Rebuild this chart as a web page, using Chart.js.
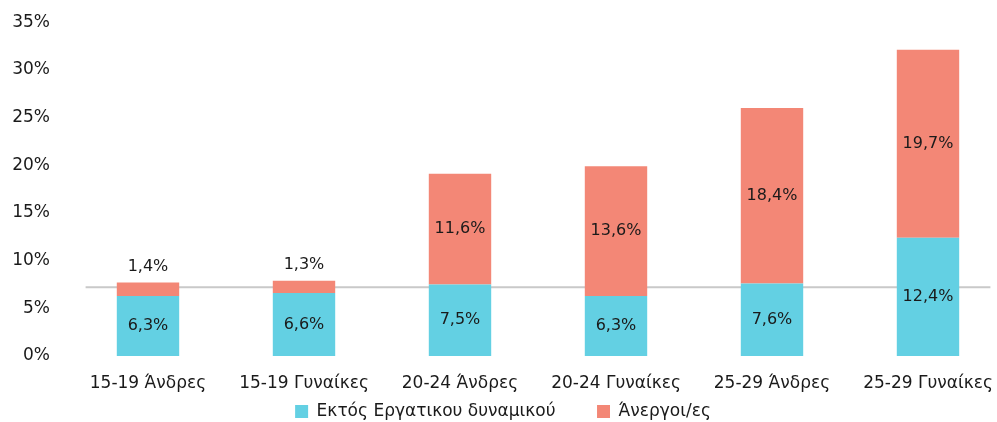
<!DOCTYPE html>
<html>
<head>
<meta charset="utf-8">
<script src="https://cdn.jsdelivr.net/npm/chart.js@4"></script>
<style>
  html, body { margin: 0; padding: 0; overflow: hidden; background: #fff; }
  #wrap { position: absolute; left: 0; top: 0; width: 1006px; height: 430px; }
</style>
</head>
<body>
<div id="wrap"><canvas id="myChart" width="1006" height="430"></canvas></div>
<script>
const categories = ["15-19 Άνδρες", "15-19 Γυναίκες", "20-24 Άνδρες", "20-24 Γυναίκες", "25-29 Άνδρες", "25-29 Γυναίκες"];
const outsideLabour = [6.3, 6.6, 7.5, 6.3, 7.6, 12.4];
const unemployed = [1.4, 1.3, 11.6, 13.6, 18.4, 19.7];
const seriesNames = ["Εκτός Εργατικου δυναμικού", "Άνεργοι/ες"];
const yTicks = [0, 5, 10, 15, 20, 25, 30, 35];
const refLine = 7.2; // grey horizontal line

const FONT = "'DejaVu Sans', sans-serif";
const LEGEND_GAP = "\u00a0\u00a0\u00a0\u00a0\u00a0\u00a0";

function fmt(v) {
  return v.toFixed(1).replace(".", ",") + "%";
}

// grey reference line, behind bars
const refLinePlugin = {
  id: "refLine",
  beforeDatasetsDraw(chart) {
    const { ctx, scales } = chart;
    const y = scales.y.getPixelForValue(refLine);
    const x0 = scales.x.getPixelForValue(-0.4);
    const x1 = scales.x.getPixelForValue(categories.length - 0.6);
    ctx.save();
    ctx.strokeStyle = "#c9c9c9";
    ctx.lineWidth = 2;
    ctx.beginPath();
    ctx.moveTo(x0, y);
    ctx.lineTo(x1, y);
    ctx.stroke();
    ctx.restore();
  },
};

// value labels inside / above the segments
const labelsPlugin = {
  id: "valueLabels",
  afterDatasetsDraw(chart) {
    const { ctx } = chart;
    ctx.save();
    ctx.font = "16px " + FONT;
    ctx.fillStyle = "#1a1a1a";
    ctx.textAlign = "center";
    ctx.textBaseline = "middle";
    chart.data.datasets.forEach((ds, di) => {
      const meta = chart.getDatasetMeta(di);
      meta.data.forEach((bar, i) => {
        const h = Math.abs(bar.base - bar.y);
        let y = (bar.y + bar.base) / 2;
        if (h < 22) y = bar.y - 16;
        ctx.fillText(fmt(ds.data[i]), bar.x, y);
      });
    });
    ctx.restore();
  },
};

const ctx = document.getElementById("myChart").getContext("2d");
new Chart(ctx, {
  type: "bar",
  data: {
    labels: categories,
    datasets: [
      {
        label: seriesNames[0],
        data: outsideLabour,
        backgroundColor: "#63d0e3",
        barPercentage: 0.4,
        categoryPercentage: 1,
      },
      {
        label: seriesNames[1],
        data: unemployed,
        backgroundColor: "#f38776",
        barPercentage: 0.4,
        categoryPercentage: 1,
      },
    ],
  },
  options: {
    responsive: false,
    animation: false,
    layout: { padding: { top: 14, right: 0, bottom: 0, left: 0 } },
    plugins: {
      legend: {
        position: "bottom",
        labels: {
          boxWidth: 13,
          boxHeight: 13,
          padding: 9,
          color: "#1a1a1a",
          font: { family: FONT, size: 17 },
          generateLabels(chart) {
            const items = Chart.defaults.plugins.legend.labels.generateLabels(chart);
            items.forEach((it, i) => {
              it.lineWidth = 0;
              if (i < items.length - 1) it.text = it.text + LEGEND_GAP;
            });
            return items;
          },
        },
      },
      tooltip: { enabled: false },
    },
    scales: {
      x: {
        stacked: true,
        grid: { display: false },
        border: { display: false },
        ticks: { color: "#1a1a1a", font: { family: FONT, size: 17 }, padding: 9, maxRotation: 0 },
        afterFit(scale) {
          scale.height = 38;
        },
      },
      y: {
        stacked: true,
        min: 0,
        max: 35,
        grid: { display: false },
        border: { display: false },
        afterBuildTicks(scale) {
          scale.ticks = yTicks.map((v) => ({ value: v }));
        },
        afterFit(scale) {
          scale.width = 70;
        },
        ticks: {
          color: "#1a1a1a",
          padding: 12,
          font: { family: FONT, size: 17 },
          callback: (v) => v + "%",
        },
      },
    },
  },
  plugins: [refLinePlugin, labelsPlugin],
});
</script>
</body>
</html>
